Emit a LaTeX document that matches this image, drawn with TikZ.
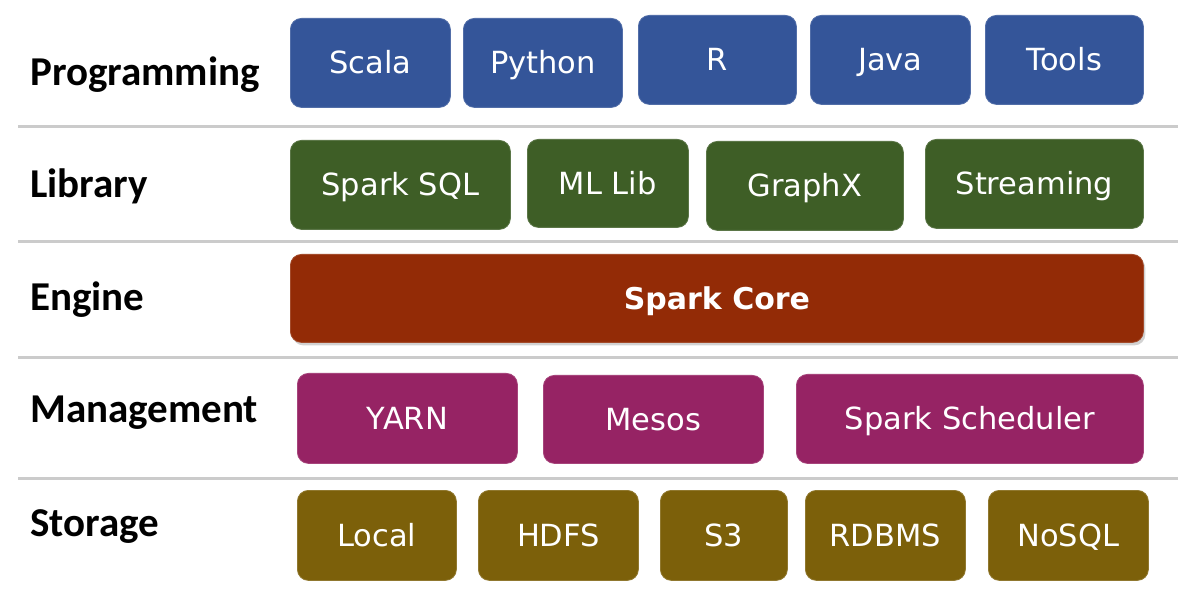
\documentclass[tikz,border=0pt]{standalone}
\usepackage{fontspec}
\setmainfont{DejaVu Sans}
\newfontfamily\labelfont{Carlito}
\usetikzlibrary{shadows}
\definecolor{progblue}{HTML}{345599}
\definecolor{libgreen}{HTML}{3E5E26}
\definecolor{corered}{HTML}{932B06}
\definecolor{mgmtpurple}{HTML}{962364}
\definecolor{storeolive}{HTML}{7C600A}
\definecolor{sepgray}{HTML}{CBCBCB}
\tikzset{
  blk/.style={rounded corners=11pt, inner sep=0pt, anchor=north west,
    text=white, font=\fontsize{30.5}{36}\selectfont, text height=22pt, text depth=0pt,
    draw=#1!85!white, line width=0.8pt, fill=#1},
  layerlabel/.style={anchor=base west, inner sep=0pt, font=\labelfont\bfseries\fontsize{41}{48}\selectfont},
  sepline/.style={draw=sepgray, line width=3pt}
}
\newcommand{\blkat}[7]{% name, colour, x1, y1, x2, y2, text
  \node[blk=#2, minimum width=#5pt-#3pt, minimum height=#6pt-#4pt] (#1) at (#3,-#4) {#7};}
\begin{document}
\begin{tikzpicture}[x=1pt,y=1pt]
\useasboundingbox[fill=white] (0,0) rectangle (1178,-609);
% separator lines
\coordinate (s1a) at (18,-127); \coordinate (s1b) at (1178,-127);
\coordinate (s2a) at (18,-242); \coordinate (s2b) at (1178,-242);
\coordinate (s3a) at (18,-358); \coordinate (s3b) at (1178,-358);
\coordinate (s4a) at (18,-478); \coordinate (s4b) at (1178,-478);
\draw[sepline] (s1a) -- (s1b);
\draw[sepline] (s2a) -- (s2b);
\draw[sepline] (s3a) -- (s3b);
\draw[sepline] (s4a) -- (s4b);
% labels
\node[layerlabel] (lprog) at (30,-86) {Programming};
\node[layerlabel] (llib) at (30,-198) {Library};
\node[layerlabel] (leng) at (30,-311) {Engine};
\node[layerlabel] (lmgmt) at (30,-423) {Management};
\node[layerlabel] (lstor) at (30,-536) {Storage};
% programming
\blkat{scala}{progblue}{290}{18}{450}{107}{Scala}
\blkat{python}{progblue}{463}{18}{622}{107}{Python}
\blkat{r}{progblue}{638}{15}{796}{104}{R}
\blkat{java}{progblue}{810}{15}{970}{104}{Java}
\blkat{tools}{progblue}{985}{15}{1143}{104}{Tools}
% library
\blkat{sql}{libgreen}{290}{140}{510}{229}{Spark SQL}
\blkat{ml}{libgreen}{527}{139}{688}{227}{ML Lib}
\blkat{graphx}{libgreen}{706}{141}{903}{230}{GraphX}
\blkat{stream}{libgreen}{925}{139}{1143}{228}{Streaming}
% engine
\node[blk=corered, minimum width=853pt, minimum height=88pt, font=\bfseries\fontsize{30}{36}\selectfont,
  drop shadow={shadow xshift=2pt, shadow yshift=-3pt, opacity=0.35}] (core) at (290,-254) {Spark Core};
% management
\blkat{yarn}{mgmtpurple}{297}{373}{517}{463}{YARN}
\blkat{mesos}{mgmtpurple}{543}{375}{763}{463}{Mesos}
\blkat{sched}{mgmtpurple}{796}{374}{1143}{463}{Spark Scheduler}
% storage
\blkat{local}{storeolive}{297}{490}{456}{580}{Local}
\blkat{hdfs}{storeolive}{478}{490}{638}{580}{HDFS}
\blkat{s3}{storeolive}{660}{490}{787}{580}{S3}
\blkat{rdbms}{storeolive}{805}{490}{965}{580}{RDBMS}
\blkat{nosql}{storeolive}{988}{490}{1148}{580}{NoSQL}
\end{tikzpicture}
\end{document}
